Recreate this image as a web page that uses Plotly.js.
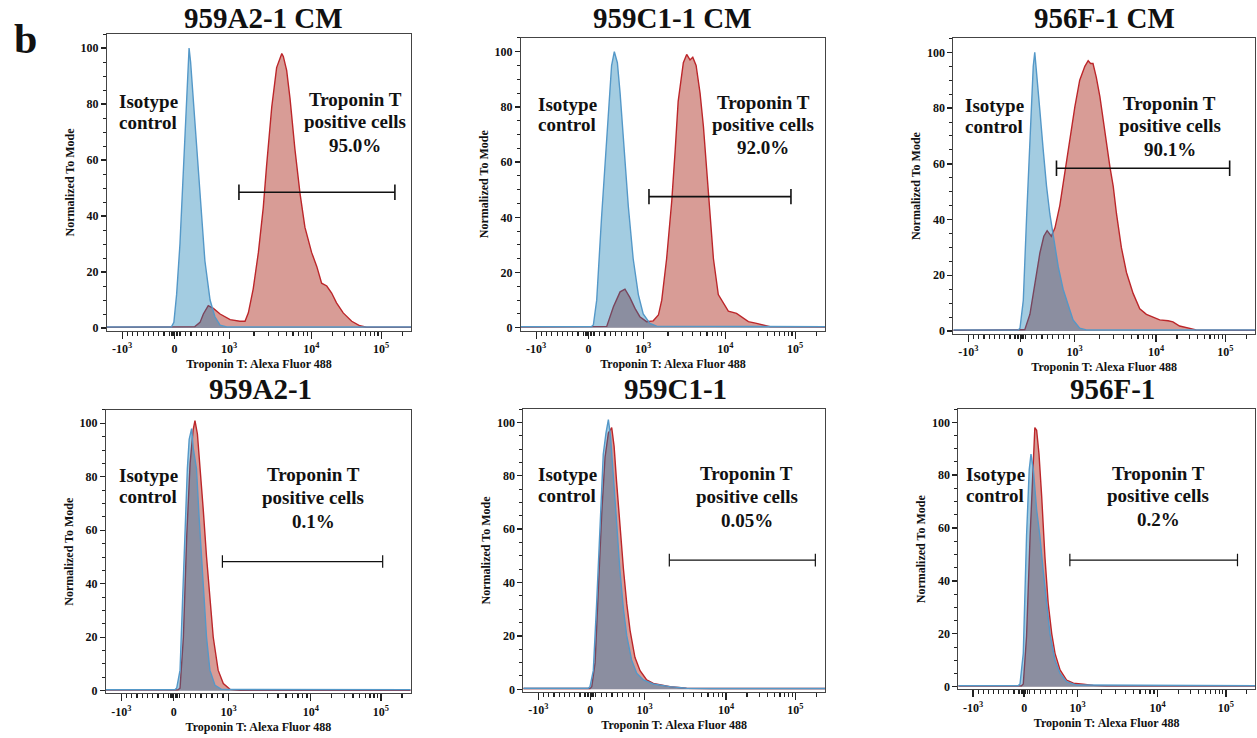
<!DOCTYPE html>
<html><head><meta charset="utf-8">
<script src="https://cdn.plot.ly/plotly-3.0.1.min.js"></script>
<style>html,body{margin:0;padding:0;background:#fff}#chart{width:1257px;height:738px}</style>
</head><body><div id="chart"></div>
<script>
// ---------- DATA (x in display channels 0-1000 of the biexponential axis, y = % of mode) ----------
const panelTitles = ['959A2-1 CM', '959C1-1 CM', '956F-1 CM', '959A2-1', '959C1-1', '956F-1'];
const positivePct = ['95.0%', '92.0%', '90.1%', '0.1%', '0.05%', '0.2%'];
const isoLabel = ['Isotype', 'control'];
const tropLabel = ['Troponin T', 'positive cells'];
const xTitle = 'Troponin T: Alexa Fluor 488';
const yTitle = 'Normalized To Mode';

const tickCh = [50, 222, 402, 672, 902];
const tickText = ['-10<sup>3</sup>', '0', '10<sup>3</sup>', '10<sup>4</sup>', '10<sup>5</sup>'];
const tickValues = [-1000, 0, 1000, 10000, 100000];
const yTicks = [0, 20, 40, 60, 80, 100];

// gates (channel start, channel end, height)
const gateLo = [434, 421, 342, 382, 484, 376];
const gateHi = [947, 888, 916, 908, 968, 941];
const gateY  = [48.5, 47.5, 58.4, 48.3, 48.4, 47.9];

// Isotype control histograms
const isoX1 = [0, 212, 220, 229, 240, 248, 259, 265, 270, 275, 279, 290, 306, 322, 339, 355, 372, 394, 1000];
const isoY1 = [0.4, 0.4, 2, 12, 30, 50, 78, 92, 100, 95, 89, 70, 46, 24, 10, 4, 1, 0.4, 0.4];
const isoX2 = [0, 232, 238, 249, 265, 282, 298, 307, 317, 326, 339, 353, 369, 386, 402, 424, 446, 1000];
const isoY2 = [0.4, 0.4, 1, 10, 40, 70, 95, 100, 96, 85, 64, 44, 25, 12, 5, 1.6, 0.6, 0.4];
const isoX3 = [0, 215, 221, 232, 243, 254, 265, 270, 278, 287, 298, 309, 320, 331, 348, 364, 381, 397, 419, 441, 1000];
const isoY3 = [0.4, 0.4, 1, 11, 41, 71, 95, 100, 91, 79, 65, 52, 42, 34, 23, 15, 9, 4, 1, 0.4, 0.4];
const isoX4 = [0, 226, 232, 243, 251, 259, 267, 273, 281, 286, 297, 306, 314, 321, 330, 341, 358, 379, 1000];
const isoY4 = [0.4, 0.4, 1, 7.7, 33, 58, 83, 94, 98, 91, 83, 64, 50, 35, 20, 7.7, 2, 0.5, 0.4];
const isoX5 = [0, 215, 221, 232, 243, 254, 265, 274, 282, 289, 298, 309, 320, 332, 343, 359, 376, 398, 431, 486, 541, 620, 1000];
const isoY5 = [0.4, 0.4, 1, 7, 32, 63, 88, 96, 101, 95, 82, 63, 45, 30, 20, 11, 6, 3.5, 2, 1, 0.4, 0.3, 0.3];
const isoX6 = [0, 202, 208, 219, 230, 239, 245, 253, 264, 275, 286, 298, 309, 326, 343, 365, 399, 1000];
const isoY6 = [0.4, 0.4, 1, 12.6, 57, 82, 88, 82, 67, 57, 44, 31.5, 20, 10, 5, 1.9, 0.6, 0.4];

// Troponin T histograms
const tropX1 = [0, 280, 289, 306, 317, 333, 350, 372, 405, 437, 454, 465, 481, 498, 514, 525, 542, 558, 575, 580, 591, 602, 618, 635, 651, 673, 690, 706, 723, 739, 755, 777, 805, 832, 854, 1000];
const tropY1 = [0.3, 0.3, 0.5, 2, 5, 8, 7, 5, 3, 2.4, 2.4, 5.4, 14, 27, 43, 58, 79, 93, 98, 97, 92, 82, 64, 48, 36, 27, 22, 16, 15, 12.5, 9, 5.4, 2.4, 0.8, 0.3, 0.3];
const tropX2 = [0, 275, 282, 304, 326, 342, 358, 375, 391, 413, 435, 452, 463, 479, 496, 507, 517, 534, 545, 556, 565, 576, 589, 600, 611, 622, 633, 649, 665, 682, 709, 725, 748, 775, 797, 819, 1000];
const tropY2 = [0.3, 0.3, 0.5, 7.6, 13, 14, 11, 7, 4, 2.2, 2.5, 4.6, 10, 25, 46, 64, 82, 96, 99, 97, 98, 95, 85, 73, 56, 40, 25, 12, 9, 6, 5.2, 4, 2.2, 1.6, 1, 0.4, 0.3];
const tropX3 = [0, 230, 237, 254, 270, 287, 300, 311, 325, 337, 353, 370, 386, 403, 419, 436, 447, 455, 463, 474, 486, 502, 519, 530, 541, 557, 574, 596, 618, 640, 662, 684, 712, 728, 750, 778, 805, 1000];
const tropY3 = [0.3, 0.3, 0.5, 6, 17, 28, 34, 36, 34, 37, 45, 57, 69, 80.5, 90, 95, 97, 96, 96, 91, 84, 71, 59, 52, 42, 30, 21, 13.5, 8, 6, 5, 4, 3.7, 3.3, 1.8, 1, 0.4, 0.3];
const tropX4 = [0, 236, 243, 254, 265, 276, 286, 292, 300, 308, 319, 330, 341, 352, 368, 385, 407, 440, 1000];
const tropY4 = [0.3, 0.3, 1, 20, 58, 85, 97.5, 101, 96, 85, 68, 50, 35, 20, 7.7, 2.7, 0.5, 0.2, 0.2];
const tropX5 = [0, 221, 227, 238, 249, 260, 271, 282, 293, 301, 309, 320, 332, 343, 354, 370, 387, 409, 431, 486, 541, 620, 1000];
const tropY5 = [0.3, 0.3, 1, 10, 38, 66, 87, 96, 98, 91, 78, 61, 45, 32, 22, 12, 7, 3.5, 2.2, 1, 0.4, 0.3, 0.3];
const tropX6 = [0, 213, 219, 230, 242, 251, 258, 264, 272, 281, 292, 303, 315, 326, 343, 365, 388, 421, 455, 500, 1000];
const tropY6 = [0.3, 0.3, 1, 19, 57, 82, 98, 97, 88, 72, 49, 31.5, 20, 12.6, 6.3, 2.5, 1.3, 0.9, 0.5, 0.3, 0.3];

const isoX = [isoX1, isoX2, isoX3, isoX4, isoX5, isoX6];
const isoY = [isoY1, isoY2, isoY3, isoY4, isoY5, isoY6];
const tropX = [tropX1, tropX2, tropX3, tropX4, tropX5, tropX6];
const tropY = [tropY1, tropY2, tropY3, tropY4, tropY5, tropY6];

// ---------- LAYOUT ----------
const W = 1257, H = 738;
const FONT = 'Liberation Serif, Times New Roman, serif';
// plot frames in pixels [left, right, top, bottom]
const frames = [
  [107, 411, 34, 330.8],
  [521, 825, 37.9, 330.5],
  [953.3, 1255, 38.4, 333.8],
  [106, 410.7, 409.9, 693.4],
  [523.3, 825, 409, 692],
  [958.3, 1255, 409.1, 689.3]
];
const titlePos = [[263, 18], [672, 18], [1104, 18], [260, 389], [676, 389], [1112, 389]];
const isoPos = [33, 49, 33, 35, 42, 19];
const tropPos = [816, 797, 717, 680, 740, 674];
const isoLineY = [[81, 73.5], [81, 73.5], [81, 73.5], [80.4, 72.5], [80.4, 72.5], [80.4, 72.5]];
const tropLineY = [[81.5, 73.7, 65.3], [81.5, 73.7, 65.3], [81.5, 73.7, 65.3], [80.7, 72.2, 63.3], [80.7, 72.2, 63.3], [80.7, 72.2, 63.3]];

// biexponential-like channel mapping for minor ticks
function chOf(v) {
  if (v <= 0) return tickCh[1] + (v / 1000) * (tickCh[1] - tickCh[0]);
  if (v <= 1000) return tickCh[1] + (v / 1000) * (tickCh[2] - tickCh[1]);
  if (v <= 1e4) return tickCh[2] + (tickCh[3] - tickCh[2]) * Math.log10(v / 1e3);
  if (v <= 1e5) return tickCh[3] + (tickCh[4] - tickCh[3]) * Math.log10(v / 1e4);
  return tickCh[4] + (tickCh[4] - tickCh[3]) * Math.log10(v / 1e5);
}
const minorVals = [];
for (let k = 1; k <= 9; k++) { minorVals.push(chOf(-100 * k)); minorVals.push(chOf(100 * k)); }
for (let k = 2; k <= 9; k++) { minorVals.push(chOf(1000 * k)); minorVals.push(chOf(10000 * k)); }
minorVals.push(chOf(200000));
minorVals.push(chOf(-30), chOf(-60), chOf(30), chOf(60));

const traces = [];
const layout = {
  width: W, height: H,
  margin: {l: 0, r: 0, t: 0, b: 0},
  paper_bgcolor: '#fff', plot_bgcolor: '#fff',
  showlegend: false,
  font: {family: FONT, color: '#111'},
  annotations: []
};

for (let i = 0; i < 6; i++) {
  const s = i === 0 ? '' : String(i + 1);
  const xa = 'x' + s, ya = 'y' + s;
  const [l, r, t, b] = frames[i];
  const bottomRow = i >= 3;

  traces.push({
    type: 'scatter', mode: 'lines', x: tropX[i], y: tropY[i], xaxis: xa, yaxis: ya,
    fill: 'tozeroy', fillcolor: 'rgb(216,156,150)',
    line: {color: 'rgb(188,38,42)', width: 1.4}, hoverinfo: 'skip'
  });
  traces.push({
    type: 'scatter', mode: 'lines', x: isoX[i], y: isoY[i], xaxis: xa, yaxis: ya,
    fill: 'tozeroy', fillcolor: 'rgba(12,122,176,0.38)',
    line: {color: 'rgb(84,152,200)', width: 1.4}, hoverinfo: 'skip'
  });
  traces.push({
    type: 'scatter', mode: 'lines+markers', x: [gateLo[i], gateHi[i]], y: [gateY[i], gateY[i]],
    xaxis: xa, yaxis: ya,
    line: {color: '#111', width: bottomRow ? 1.2 : 1.6},
    marker: {symbol: 'line-ns', size: bottomRow ? 9 : 11, line: {color: '#111', width: bottomRow ? 1.2 : 1.6}},
    hoverinfo: 'skip'
  });

  layout['xaxis' + s] = {
    domain: [l / W, r / W], anchor: ya, range: [0, 1000],
    tickmode: 'array', tickvals: tickCh, ticktext: tickText,
    ticks: 'outside', ticklen: 7, tickwidth: 1.4, tickcolor: '#222',
    showline: true, linecolor: '#444', linewidth: 1, mirror: true,
    showgrid: false, zeroline: false, fixedrange: true,
    tickfont: {family: FONT, size: 12, color: '#111', weight: 700},
    minor: {tickmode: 'array', tickvals: minorVals, ticks: 'outside', ticklen: 4, tickwidth: 1.2, tickcolor: '#222', showgrid: false},
    title: {text: xTitle, font: {family: FONT, size: 12, color: '#111', weight: 700}, standoff: 4}
  };
  layout['yaxis' + s] = {
    domain: [1 - b / H, 1 - t / H], anchor: xa, range: [-1, 105],
    tickmode: 'array', tickvals: yTicks,
    ticks: 'outside', ticklen: 5, tickwidth: 1.4, tickcolor: '#222',
    showline: true, linecolor: '#444', linewidth: 1, mirror: true,
    showgrid: false, zeroline: false, fixedrange: true,
    tickfont: {family: FONT, size: 12, color: '#111', weight: 700},
    minor: {dtick: 5, tick0: 0, ticks: 'outside', ticklen: 3, tickwidth: 1, tickcolor: '#222', showgrid: false},
    title: {text: yTitle, font: {family: FONT, size: 12, color: '#111', weight: 700}, standoff: 3}
  };

  layout.annotations.push({
    xref: 'paper', yref: 'paper', x: titlePos[i][0] / W, y: 1 - titlePos[i][1] / H,
    xanchor: 'center', yanchor: 'middle', showarrow: false, text: panelTitles[i],
    font: {family: FONT, size: 29, color: '#111', weight: 700}
  });
  isoLabel.forEach((txt, k) => layout.annotations.push({
    xref: xa, yref: ya, x: isoPos[i], y: isoLineY[i][k], xanchor: 'left', yanchor: 'middle',
    showarrow: false, text: txt, font: {family: FONT, size: 19, color: '#111', weight: 700}
  }));
  tropLabel.concat([positivePct[i]]).forEach((txt, k) => layout.annotations.push({
    xref: xa, yref: ya, x: tropPos[i], y: tropLineY[i][k], xanchor: 'center', yanchor: 'middle',
    showarrow: false, text: txt, font: {family: FONT, size: 19, color: '#111', weight: 700}
  }));
}

layout.annotations.push({
  xref: 'paper', yref: 'paper', x: 25 / W, y: 1 - 39 / H, xanchor: 'center', yanchor: 'middle',
  showarrow: false, text: 'b', font: {family: FONT, size: 42, color: '#111', weight: 700}
});

Plotly.newPlot('chart', traces, layout, {staticPlot: true, displayModeBar: false});
</script></body></html>
